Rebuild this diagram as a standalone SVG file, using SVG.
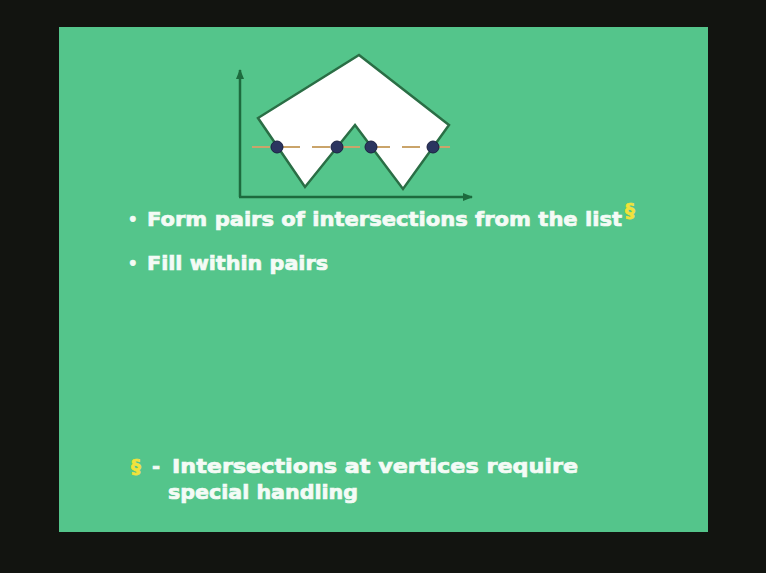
<svg xmlns="http://www.w3.org/2000/svg" width="766" height="573" viewBox="0 0 766 573">
<style>
.t{font-family:"DejaVu Sans","Verdana",sans-serif;font-weight:bold;font-size:19.5px;fill:#f4fbf6;stroke:#f4fbf6;stroke-width:0.7}
.b{font-size:15px}
.y{fill:#f2e23a;stroke:#f2e23a}
.ax{stroke:#1d6b3e;stroke-width:2.5;fill:none}
.dot{fill:#2b3560;stroke:#1a2040;stroke-width:1}
</style>
<defs>
<marker id="ah" viewBox="0 0 10 10" refX="9" refY="5" markerWidth="4" markerHeight="4" orient="auto"><path d="M0,1 L10,5 L0,9 z" fill="#1d6b3e"/></marker>
</defs>
<rect width="766" height="573" fill="#121410"/>
<rect x="59" y="27" width="649" height="505" fill="#54c58b"/>
<g id="axes">
<path class="ax" d="M240,197 L240,70" marker-end="url(#ah)"/>
<path class="ax" d="M239,197 L472,197" marker-end="url(#ah)"/>
</g>
<g id="polygon">
<polygon points="359,55 449,125 403,189 355,125 305,187 258,118" fill="#ffffff" stroke="#2a6e45" stroke-width="2.5" stroke-linejoin="miter"/>
</g>
<g id="connectors">
<line x1="252" y1="147" x2="460" y2="147" stroke="#caa46a" stroke-width="2" stroke-dasharray="18,12"/>
</g>
<g id="points">
<circle class="dot" cx="277" cy="147" r="6"/>
<circle class="dot" cx="337" cy="147" r="6"/>
<circle class="dot" cx="371" cy="147" r="6"/>
<circle class="dot" cx="433" cy="147" r="6"/>
</g>
<g id="bullets">
<text class="t b" x="128" y="225">•</text>
<text class="t" x="147" y="226" textLength="475" lengthAdjust="spacingAndGlyphs">Form pairs of intersections from the list</text>
<text class="t y" x="625" y="217" font-size="10">§</text>
<text class="t b" x="128" y="269">•</text>
<text class="t" x="147" y="270" textLength="181" lengthAdjust="spacingAndGlyphs">Fill within pairs</text>
</g>
<g id="footnote">
<text class="t y" x="131" y="473">§</text>
<text class="t" x="152" y="473">-</text>
<text class="t" x="172" y="473" textLength="406" lengthAdjust="spacingAndGlyphs">Intersections at vertices require</text>
<text class="t" x="168" y="499" textLength="190" lengthAdjust="spacingAndGlyphs">special handling</text>
</g>
</svg>
